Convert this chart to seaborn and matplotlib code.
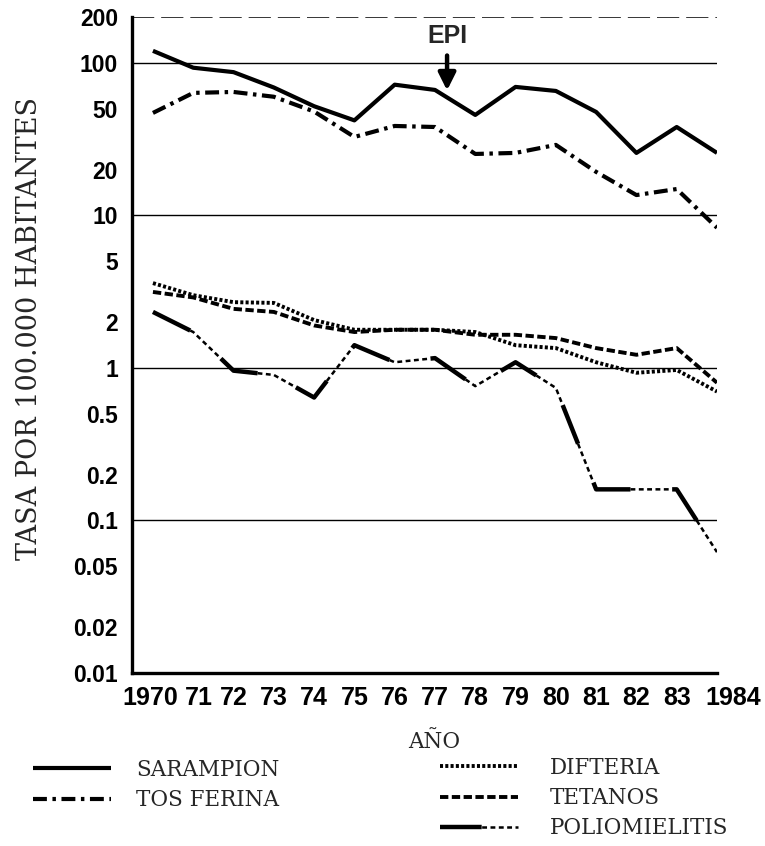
import numpy as np
import pandas as pd
import matplotlib
matplotlib.use("Agg")
import matplotlib.pyplot as plt
import matplotlib.ticker as mticker
from matplotlib.transforms import ScaledTranslation
from matplotlib.legend_handler import HandlerTuple
import seaborn as sns

# ---------------- data ----------------
years = [1970, 1971, 1972, 1973, 1974, 1975, 1976, 1977, 1978, 1979, 1980, 1981, 1982, 1983, 1984]
year_labels = ["1970", "71", "72", "73", "74", "75", "76", "77", "78", "79", "80", "81", "82", "83", "1984"]
sarampion = [120, 93, 87, 69, 52, 42, 72, 66.5, 45.6, 69.6, 65.5, 47.7, 25.7, 38, 25.7]
tos_ferina = [47, 63.6, 64.5, 60, 48, 32.7, 38.6, 38, 25.3, 25.7, 29, 19.3, 13.6, 14.9, 8.3]
difteria = [3.6, 3.0, 2.7, 2.67, 2.06, 1.78, 1.78, 1.78, 1.72, 1.41, 1.35, 1.09, 0.93, 0.97, 0.70]
tetanos = [3.15, 2.9, 2.44, 2.33, 1.9, 1.72, 1.78, 1.78, 1.65, 1.65, 1.57, 1.35, 1.22, 1.35, 0.80]
polio = [2.33, 1.72, 0.96, 0.90, 0.64, 1.41, 1.09, 1.16, 0.76, 1.09, 0.74, 0.16, 0.16, 0.16, 0.062]
series_names = ["SARAMPION", "TOS FERINA", "DIFTERIA", "TETANOS", "POLIOMIELITIS"]
ytick_vals = [200, 100, 50, 20, 10, 5, 2, 1, 0.5, 0.2, 0.1, 0.05, 0.02, 0.01]
ytick_labels = ["200", "100", "50", "20", "10", "5", "2", "1", "0.5", "0.2", "0.1", "0.05", "0.02", "0.01"]
grid_vals = [200, 100, 10, 1, 0.1]
epi_year = 1977.3
epi_tip = 66
epi_text_val = 150

sns.set_style("white")
plt.rcParams["lines.scale_dashes"] = False
plt.rcParams["font.family"] = ["Liberation Sans", "DejaVu Sans"]

fig = plt.figure(figsize=(7.65, 8.46), dpi=100)
ax = fig.add_axes([132 / 765, 1 - 673 / 846, (717 - 132) / 765, (673 - 17) / 846])

serif = ["DejaVu Serif"]

def draw(vals, **kw):
    sns.lineplot(x=years, y=vals, ax=ax, color="black", legend=False, **kw)
    return ax.get_lines()[-1]

l_sar = draw(sarampion, linewidth=3.0, linestyle="-")
l_tos = draw(tos_ferina, linewidth=3.0, linestyle=(0, (10, 4, 2.5, 4)))
l_dif = draw(difteria, linewidth=2.8, linestyle=(0, (2.2, 1.6)))
l_tet = draw(tetanos, linewidth=2.8, linestyle=(0, (6, 2.5)))
l_pol = draw(polio, linewidth=3.2, linestyle=(0, (30, 30)))
l_pol2 = draw(polio, linewidth=1.8, linestyle=(30, (3.5, 2.5, 3.5, 2.5, 3.5, 2.5, 3.5, 2.5, 3.5, 32.5)))
for ln in [l_sar, l_tos, l_dif, l_tet, l_pol, l_pol2]:
    ln.set_dash_capstyle("butt")
    ln.set_solid_capstyle("butt")

ax.set_yscale("log")
ax.set_ylim(0.01, 200)
ax.set_xlim(1969.48, 1984)

# gridlines
for g in grid_vals:
    if g == 200:
        ax.axhline(g, color="black", lw=1.1, ls=(0, (16, 5)), zorder=0)
    else:
        ax.axhline(g, color="black", lw=1.0, zorder=0)

ax.yaxis.set_major_locator(mticker.FixedLocator(ytick_vals))
ax.yaxis.set_major_formatter(mticker.FixedFormatter(ytick_labels))
ax.yaxis.set_minor_locator(mticker.LogLocator(base=10, subs=np.arange(2, 10), numticks=20))
ax.yaxis.set_minor_formatter(mticker.NullFormatter())
ax.set_xticks(years)
ax.set_xticklabels(year_labels)

ax.tick_params(axis="y", which="major", direction="in", length=7, width=1.2, pad=10,
               labelsize=16.5, colors="black")
ax.tick_params(axis="y", which="minor", direction="in", length=6, width=1.0)
ax.tick_params(axis="x", which="major", direction="in", length=11, width=1.1, pad=9,
               labelsize=18, colors="black")
ax.tick_params(axis="x", which="minor", bottom=False)
for lab in ax.get_xticklabels() + ax.get_yticklabels():
    lab.set_fontweight("bold")
xl = ax.get_xticklabels()
shifts = {0: -3, 1: 6, 14: 16}
for i, dx in shifts.items():
    xl[i].set_transform(xl[i].get_transform() + ScaledTranslation(dx / 100, 0, fig.dpi_scale_trans))

for s in ["top", "right"]:
    ax.spines[s].set_visible(False)
for s in ["left", "bottom"]:
    ax.spines[s].set_linewidth(2.4)
    ax.spines[s].set_color("black")

ax.set_ylabel("TASA POR 100.000 HABITANTES", family=serif, fontsize=19.5)
ax.yaxis.set_label_coords((43 - 132) / 585, (673 - 328) / 656)
ax.set_xlabel("AÑO", family=serif, fontsize=15.5)
ax.xaxis.set_label_coords((434 - 132) / 585, (673 - 731) / 656)

ax.annotate("EPI", xy=(epi_year, epi_tip), xytext=(epi_year, epi_text_val),
            ha="center", va="center", fontsize=18, fontweight="bold",
            arrowprops=dict(arrowstyle="-|>", lw=3.2, color="black", mutation_scale=26,
                            shrinkA=3, shrinkB=0))

leg_kw = dict(frameon=False, loc="upper left", borderpad=0, borderaxespad=0,
              handlelength=3.6, labelspacing=0.38,
              prop={"family": serif, "size": 15.5})
leg1 = fig.legend([l_sar, l_tos], series_names[:2], handletextpad=1.2,
                  bbox_to_anchor=(33 / 765, 1 - 759 / 846), **leg_kw)
leg2 = fig.legend([l_dif, l_tet, (l_pol, l_pol2)], series_names[2:], handletextpad=1.5,
                  bbox_to_anchor=(440 / 765, 1 - 757 / 846),
                  handler_map={tuple: HandlerTuple(ndivide=1, pad=0)}, **leg_kw)

fig.savefig("out.png", dpi=100, facecolor="white")
